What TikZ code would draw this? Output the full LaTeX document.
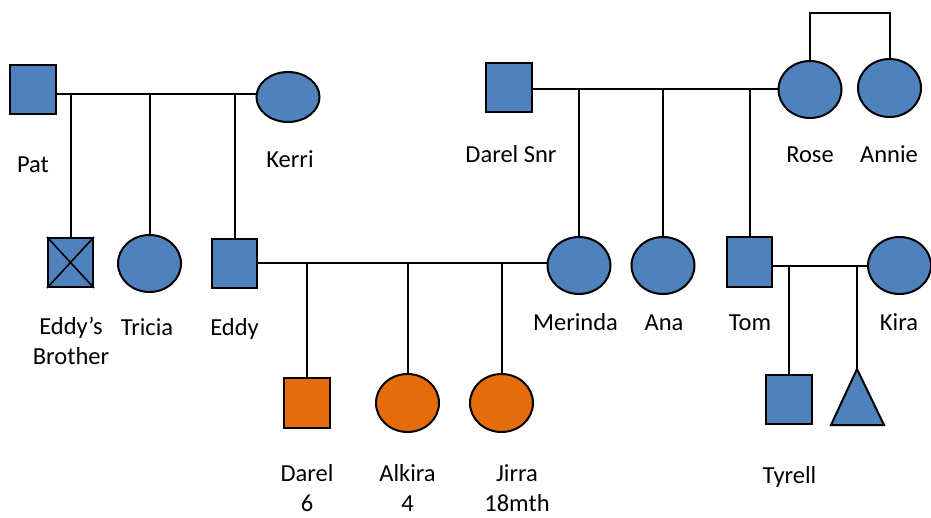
\documentclass[tikz,border=0pt]{standalone}
\usepackage{fontspec}
\setmainfont{Carlito}
\usetikzlibrary{shapes.geometric}
\definecolor{pblue}{HTML}{4F81BD}
\definecolor{porange}{HTML}{E46C0A}
\tikzset{
  male/.style={draw=black, line width=2pt, fill=pblue, rectangle, minimum width=46pt, minimum height=49pt, inner sep=0pt},
  female/.style={draw=black, line width=2pt, fill=pblue, ellipse, minimum width=63pt, minimum height=57pt, inner sep=0pt},
  orange/.style={fill=porange},
  link/.style={draw=black, line width=2pt},
  lbl/.style={anchor=base, inner sep=0pt, font=\fontsize{24.5}{29.5}\selectfont, align=center}
}
\begin{document}
\begin{tikzpicture}[x=1pt,y=-1pt]
\useasboundingbox (0,0) rectangle (931,517);
% generation 1
\node[male] (pat) at (33,89) {};
\node[female, minimum height=50pt] (kerri) at (288,97) {};
\node[male] (darelsnr) at (509,87.5) {};
\node[female] (rose) at (810,89.5) {};
\node[female, minimum height=58pt] (annie) at (889.5,88) {};
% generation 2
\node[male, minimum width=45pt] (eb) at (70.5,262.5) {};
\node[female] (tricia) at (149.5,263.5) {};
\node[male, minimum width=45pt] (eddy) at (234.5,263.5) {};
\node[female] (merinda) at (579,265.5) {};
\node[female] (ana) at (663,265.5) {};
\node[male, minimum width=45pt, minimum height=50pt] (tom) at (749.5,262) {};
\node[female] (kira) at (899.5,265.5) {};
% generation 3
\node[male, orange, minimum height=50pt] (darel) at (306.5,403) {};
\node[female, orange, minimum height=58pt] (alkira) at (407.5,403) {};
\node[female, orange, minimum height=58pt] (jirra) at (501.5,403) {};
\node[male] (tyrell) at (789,399.5) {};
\coordinate (apex) at (857,369);
\coordinate (baseR) at (884,425);
\coordinate (baseL) at (831,425);
\draw[link, fill=pblue, line join=miter] (apex) -- (baseR) -- (baseL) -- cycle;
% cross on Eddy's brother
\draw[line width=1.6pt] (eb.north west) -- (eb.south east) (eb.north east) -- (eb.south west);
% marriage lines
\coordinate (pk) at (0,94);
\draw[link] (pat.east |- pk) -- (kerri.west |- pk);
\coordinate (dr) at (0,89);
\draw[link] (darelsnr.east |- dr) -- (rose.west |- dr);
\coordinate (em) at (0,263);
\draw[link] (eddy.east |- em) -- (merinda.west |- em);
\coordinate (tk) at (0,266);
\draw[link] (tom.east |- tk) -- (kira.west |- tk);
% descent lines
\draw[link] (eb.north) -- (eb.north |- pk);
\draw[link] (tricia.north) -- (tricia.north |- pk);
\draw[link] (eddy.north) -- (eddy.north |- pk);
\draw[link] (merinda.north) -- (merinda.north |- dr);
\draw[link] (ana.north) -- (ana.north |- dr);
\draw[link] (tom.north) -- (tom.north |- dr);
\draw[link] (darel.north) -- (darel.north |- em);
\draw[link] (alkira.north) -- (alkira.north |- em);
\draw[link] (jirra.north) -- (jirra.north |- em);
\draw[link] (tyrell.north) -- (tyrell.north |- tk);
\draw[link] (apex) -- (apex |- tk);
% twins
\coordinate (tw) at (0,13);
\draw[link] (rose.north) -- (rose.north |- tw) -- (annie.north |- tw) -- (annie.north);
% labels
\node[lbl] (lpat) at (33,172) {Pat};
\node[lbl] (lkerri) at (290,167) {Kerri};
\node[lbl] (ldarelsnr) at (511,162) {Darel Snr};
\node[lbl] (lrose) at (810,162) {Rose};
\node[lbl] (lannie) at (889,162) {Annie};
\node[lbl] (leb) at (71,364) {Eddy’s\\Brother};
\node[lbl] (ltricia) at (147,335) {Tricia};
\node[lbl] (leddy) at (234.5,335) {Eddy};
\node[lbl] (lmerinda) at (575.5,330) {Merinda};
\node[lbl] (lana) at (664,330) {Ana};
\node[lbl] (ltom) at (750,330) {Tom};
\node[lbl] (lkira) at (899,330) {Kira};
\node[lbl] (ldarel) at (307,511) {Darel\\6};
\node[lbl] (lalkira) at (407.5,511) {Alkira\\4};
\node[lbl] (ljirra) at (517,511) {Jirra\\18mth};
\node[lbl] (ltyrell) at (789.5,483) {Tyrell};
\end{tikzpicture}
\end{document}
